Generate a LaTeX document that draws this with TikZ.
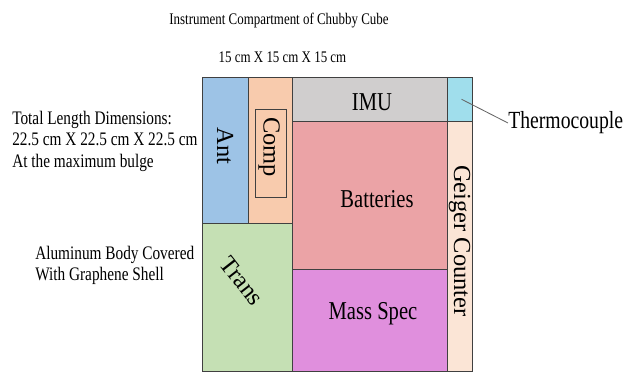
\documentclass[tikz,border=0pt]{standalone}
\usepackage{fontspec}
\setmainfont{Liberation Serif}[FakeStretch=0.8]
\newfontfamily\uprightfont{Liberation Serif}
\usepackage{xcolor}
\usetikzlibrary{positioning,calc,fit}

\definecolor{antblue}{HTML}{9DC3E6}
\definecolor{comporange}{HTML}{F8CBAD}
\definecolor{imugray}{HTML}{D0CECE}
\definecolor{thermocyan}{HTML}{A0DEEC}
\definecolor{batpink}{HTML}{EBA3A6}
\definecolor{masspink}{HTML}{E08FDD}
\definecolor{transgreen}{HTML}{C5E0B4}
\definecolor{geigerpeach}{HTML}{FBE5D6}

\begin{document}
\begin{tikzpicture}[
  x=0.025cm, y=-0.025cm,
  compart/.style={draw=black!75, line width=0.7pt, inner sep=0pt, outer sep=0pt},
  lbl/.style={font=\fontsize{18.3}{20}\selectfont, inner sep=0pt},
  vlbl/.style={font=\uprightfont\fontsize{17.4}{20}\selectfont, inner sep=0pt, rotate=-90},
  note/.style={font=\fontsize{13.6}{15.6}\selectfont, align=left, inner sep=0pt, anchor=north west},
  ttl/.style={font=\fontsize{11.5}{13}\selectfont, inner sep=0pt, anchor=base},
  leader/.style={draw=black!60, line width=0.6pt},
  ]
  \useasboundingbox (0,0) rectangle (628,373);

  % titles
  \node[ttl] (title) at (279,25) {Instrument Compartment of Chubby Cube};
  \node[ttl] (inner) at (282.5,62.5) {15 cm X 15 cm X 15 cm};

  % notes on the left
  \node[note] (total) at (12,110.5) {Total Length Dimensions:\\22.5 cm X 22.5 cm X 22.5 cm\\At the maximum bulge};
  \node[note] (shell) at (35,245.5) {Aluminum Body Covered\\With Graphene Shell};

  % compartments
  \node[compart, fill=antblue, fit={(202.5,77.5) (248,223.5)}] (ant) {};
  \node[compart, fill=comporange, fit={(248,77.5) (292,223.5)}] (comp) {};
  \node[compart, fit={(255,109.5) (286.5,197.5)}] (compbox) {};
  \node[compart, fill=transgreen, fit={(202.5,223.5) (292,371)}] (trans) {};
  \node[compart, fill=imugray, fit={(292,77.5) (447,121)}] (imu) {};
  \node[compart, fill=thermocyan, fit={(447,77.5) (472,121)}] (thermo) {};
  \node[compart, fill=batpink, fit={(292,121) (447,269.5)}] (bat) {};
  \node[compart, fill=masspink, fit={(292,269.5) (447,371)}] (mass) {};
  \node[compart, fill=geigerpeach, fit={(447,121) (472,371)}] (geiger) {};

  % labels
  \node[vlbl] (antlbl) at (225,146) {Ant};
  \node[vlbl] (complbl) at (269,147) {Comp};
  \node[vlbl, rotate=38] (translbl) at (242,281) {Trans};
  \node[lbl] (imulbl) at (372,102) {IMU};
  \node[lbl] (batlbl) at (377,199) {Batteries};
  \node[lbl] (masslbl) at (373,314) {Mass Spec};
  \node[vlbl] (geigerlbl) at (459.5,241) {Geiger Counter};

  \node[font=\fontsize{17.5}{20}\selectfont, inner sep=0pt, anchor=west] (tc) at (508,123) {Thermocouple};
  \draw[leader] ($(thermo.center)+(2,0)$) -- (tc.west);
\end{tikzpicture}
\end{document}
